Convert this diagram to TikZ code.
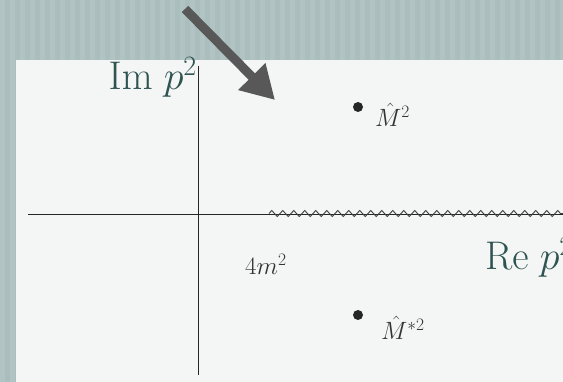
\RequirePackage{fix-cm}
\documentclass[tikz,border=0pt]{standalone}
\usepackage{amsmath}
\usepackage{amssymb}
\usepackage{xcolor}
\usetikzlibrary{arrows.meta, positioning, calc, decorations.pathmorphing}
\definecolor{slidegreen}{HTML}{AABFBD}
\definecolor{slidestripe}{HTML}{B1C4C3}
\definecolor{panelwhite}{HTML}{F4F6F6}
\definecolor{axisteal}{HTML}{2F5351}
\definecolor{pointergray}{HTML}{585858}

\begin{document}
\begin{tikzpicture}[
    x=1pt, y=-1pt,
    axis/.style={draw=black!85, line width=1pt},
    cut/.style={draw=black!75, line width=0.9pt, decorate,
        decoration={zigzag, segment length=11pt, amplitude=3pt}},
    axislabel/.style={text=axisteal, inner sep=0pt, font=\fontsize{40}{48}\selectfont},
    polelabel/.style={text=black!80, inner sep=0pt, font=\fontsize{25}{30}\selectfont},
    pole/.style={circle, fill=black!85, inner sep=0pt, minimum size=10pt},
    pointer/.style={draw=pointergray, line width=9pt, -{Triangle[length=33pt, width=36pt]}},
]
    % Background
    \useasboundingbox (0,0) rectangle (563,382);
    \fill[slidegreen] (0,0) rectangle (563,382);
    \foreach \s in {0,10,...,560}
        \fill[slidestripe] (\s,0) rectangle ++(5,382);
    \fill[panelwhite] (16,60) rectangle (563,382);

    % Axes
    \coordinate (origin) at (198,215);
    \coordinate (xstart) at (28,215);
    \coordinate (xend) at (563,215);
    \coordinate (ytop) at (198,66);
    \coordinate (ybottom) at (198,375);
    \coordinate (cutstart) at (269,215);
    \draw[axis] (xstart) -- (xend);
    \draw[axis] (ytop) -- (ybottom);
    \draw[cut] ([yshift=1.5pt]cutstart) -- ([yshift=1.5pt]xend);

    % Labels
    \node[axislabel, anchor=base east] (impart) at (197,90) {$\mathrm{Im}\;p^2$};
    \node[axislabel, anchor=base west] (repart) at (485,270) {$\mathrm{Re}\;p^2$};
    \node[polelabel, anchor=base west] (threshold) at (245,275) {$4m^2$};

    % Poles
    \node[pole] (pole) at (358,107) {};
    \node[polelabel, anchor=base west] (polelabel) at (375,127) {$\hat{M}^2$};
    \node[pole] (conjpole) at (358,315) {};
    \node[polelabel, anchor=base west] (conjlabel) at (381,340) {$\hat{M}^{*2}$};

    % Pointer
    \coordinate (pointertail) at (185,9);
    \coordinate (pointertip) at (275,100);
    \draw[pointer] (pointertail) -- (pointertip);
\end{tikzpicture}
\end{document}
